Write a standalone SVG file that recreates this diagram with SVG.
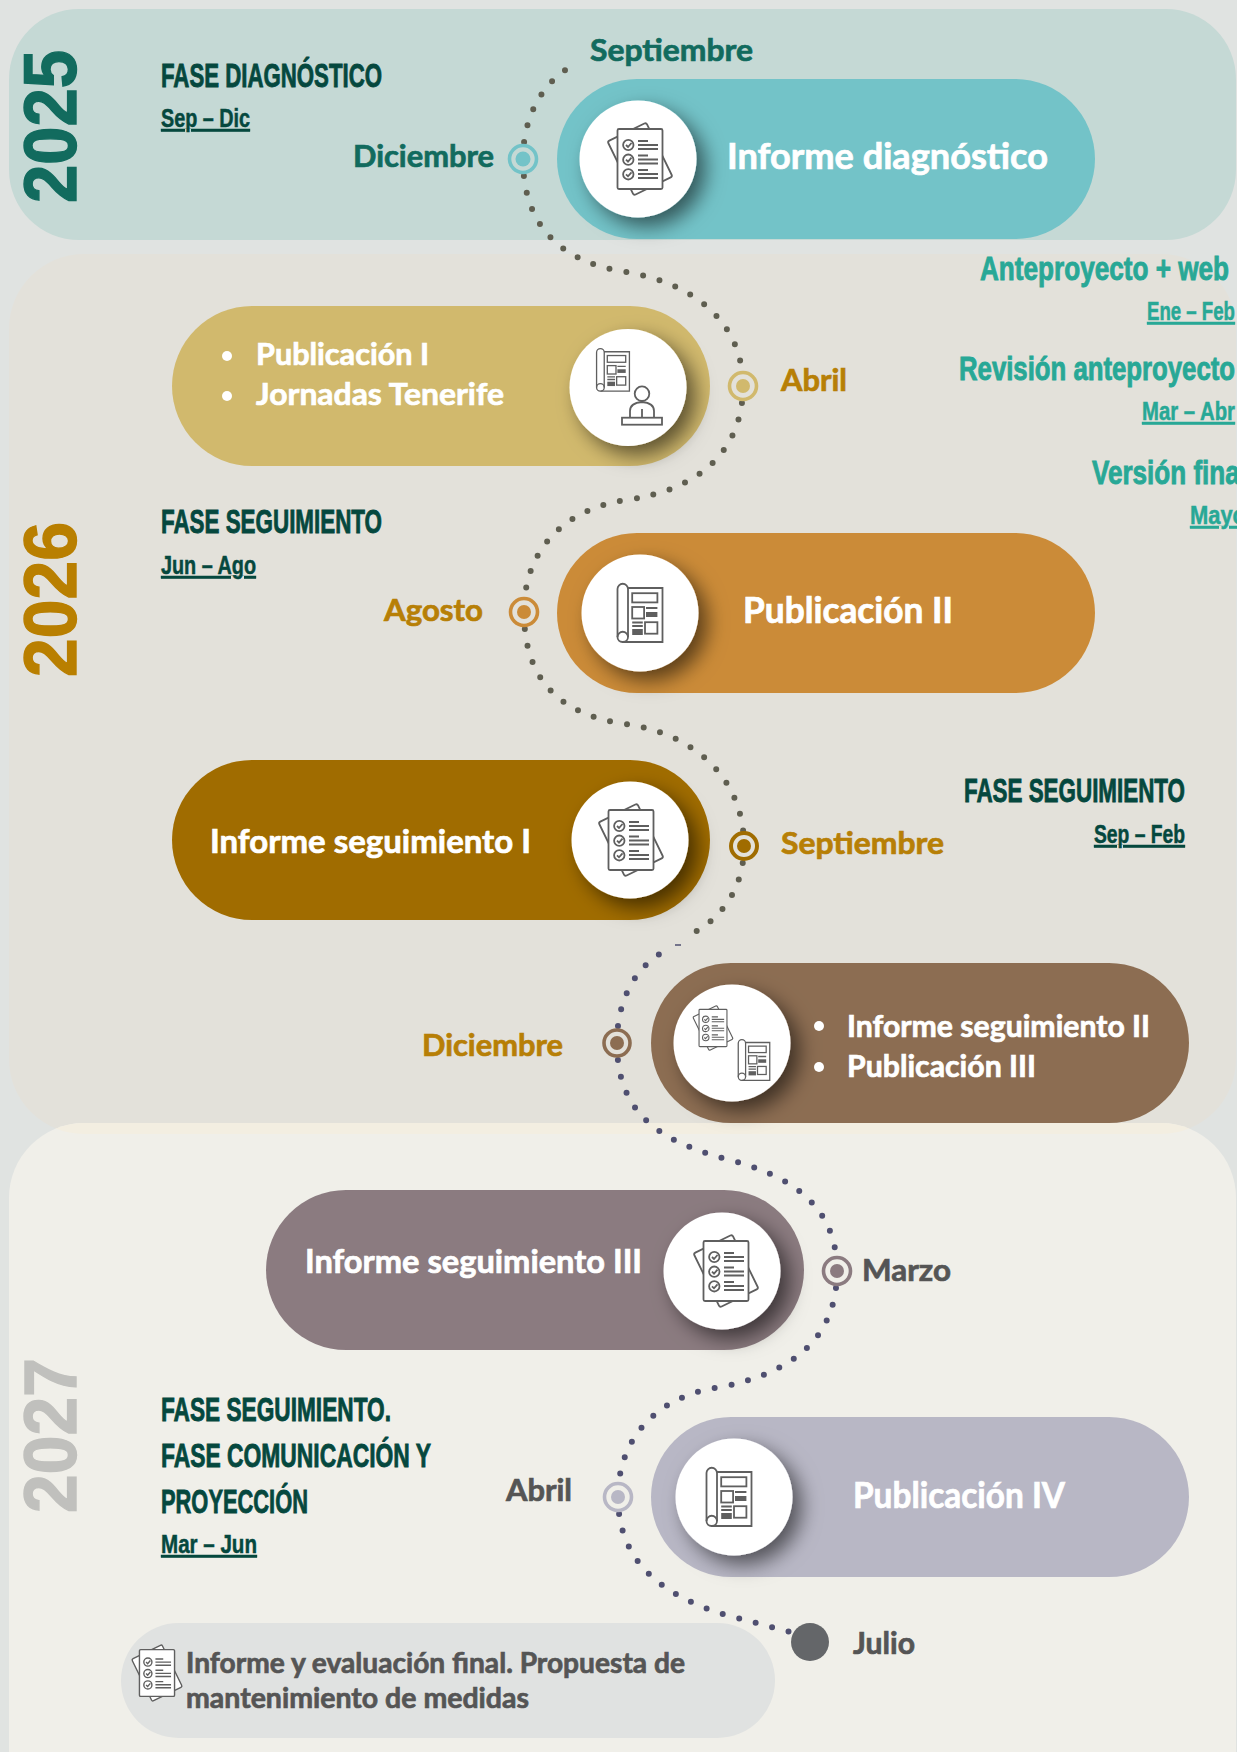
<svg xmlns="http://www.w3.org/2000/svg" width="1237" height="1752" viewBox="0 0 1237 1752">
<defs>
<style>
.t{font-family:"Lato","Liberation Sans",sans-serif;font-weight:700;stroke-width:.7px}
.f36{font-size:36px}.f33{font-size:33px}.f31{font-size:31px}.f29{font-size:29px}
.cw{fill:#fff;stroke:#fff}.cte{fill:#126b5e;stroke:#126b5e}.cam{fill:#b77f06;stroke:#b77f06}.cgr{fill:#555;stroke:#555}
.c{font-family:"Liberation Sans",Arial,sans-serif;font-weight:700;stroke-width:.9px}
.h{font-size:34px;fill:#05483e;stroke:#05483e}
.d{font-size:26px;text-decoration:underline;fill:#05483e;stroke:#05483e;stroke-width:.5px}
.hg{font-size:34px;fill:#28a896;stroke:#28a896}
.dg{font-size:26px;text-decoration:underline;fill:#28a896;stroke:#28a896;stroke-width:.5px}
.y{font-size:74px;stroke-width:1.4px}
.k{stroke:#5f5f5f;stroke-width:1.8;fill:none}
.kw{stroke:#5f5f5f;stroke-width:1.8;fill:#fff}
.dark{fill:#5f5f5f;stroke:none}
.dots{fill:none;stroke-width:6;stroke-linecap:round;stroke-dasharray:0 17}
.disc{fill:#fff;filter:url(#sh)}
.m{stroke-width:3.6}
</style>
<filter id="sh" x="-40%" y="-40%" width="200%" height="200%"><feDropShadow dx="9" dy="9" stdDeviation="10" flood-color="#000" flood-opacity=".55"/></filter>
<clipPath id="clip2026"><rect x="9" y="254" width="1227" height="880" rx="75"/></clipPath>
<g id="chk">
<rect class="kw" x="-21.500" y="-30" width="43" height="60" rx="2" transform="rotate(-26)"/>
<rect class="kw" x="-22.500" y="-30" width="45" height="60" rx="1.500"/>
<circle class="k" cx="-11.700" cy="-14" r="5.200"/><circle class="k" cx="-11.700" cy="0.700" r="5.200"/><circle class="k" cx="-11.700" cy="15.300" r="5.200"/>
<path class="k" d="M-14 -14l2 2 3.500-4M-14 0.700l2 2 3.500-4M-14 15.300l2 2 3.500-4M-2 -18h10M-2 -14h20M-2 -10h20M-2 -3.500h10M-2 0.500h20M-2 4.500h20M-2 11h10M-2 15h20M-2 19h20"/>
</g>
<g id="news">
<path class="kw" d="M-12 24V-24a5.200 5.200 0 0 0-10.500 0V24a5 5 0 0 0 5 5H22.500V-25H-12"/>
<path class="k" d="M-22.500 24a5.200 5.200 0 0 1 10.500 0a5 5 0 0 1-5 5"/>
<rect class="k" x="-7.800" y="-19.800" width="25.200" height="9.200"/><rect class="k" x="-7.800" y="-6" width="11.900" height="11.500"/><rect class="k" x="5" y="9.200" width="12.400" height="11.500"/>
<path class="k" d="M-7.800 9.500h10.600M-7.800 13h10.600M6 -5h11.400"/>
<rect class="dark" x="6" y="-1" width="11.400" height="5"/><rect class="dark" x="-7.800" y="16" width="10.600" height="6"/>
</g>
<g id="person">
<circle class="k" cx="0" cy="-13.300" r="7.300"/><path class="k" d="M-12 10V4q0-8 12-9q12 1 12 9V10M0 2V10"/><rect class="k" x="-20" y="10.700" width="40" height="7"/>
</g>
</defs>
<rect width="1237" height="1752" fill="#e0e3e1"/>
<g id="bands">
<rect id="band-2025" x="9" y="9" width="1227" height="231" rx="70" fill="#c5d9d5"/>
<rect id="band-2026" x="9" y="254" width="1227" height="880" rx="75" fill="#e3e1da"/>
<rect id="band-2027" x="9" y="1123" width="1227" height="720" rx="75" fill="#f0efe9"/>
<rect x="9" y="1123" width="1227" height="720" rx="75" fill="#f3eee1" clip-path="url(#clip2026)"/>
</g>
<text class="c y" fill="#126b5e" stroke="#126b5e" transform="translate(76 203) rotate(-90)" textLength="153" lengthAdjust="spacingAndGlyphs">2025</text>
<text class="c y" fill="#b97f00" stroke="#b97f00" transform="translate(76 677) rotate(-90)" textLength="155" lengthAdjust="spacingAndGlyphs">2026</text>
<text class="c y" fill="#c0c0bd" stroke="#c0c0bd" transform="translate(76 1513) rotate(-90)" textLength="155" lengthAdjust="spacingAndGlyphs">2027</text>
<g id="connectors">
<path class="dots" stroke="#5f5e50" d="M523 159C523 120 540 85 570 67M523 159C523 225 560 262 626 272C690 282 743 320 743 386M743 386C743 450 700 490 626 500C570 508 524 545 524 612M524 612C524 680 560 715 626 724C690 733 744 775 744 846M744 846C744 885 725 915 695 932"/>
<path stroke="#4f4f70" stroke-width="1.500" d="M675 945h6"/>
<path class="dots" stroke="#4f4f70" d="M617 1043C617 1000 635 968 663 952M617 1043C617 1110 655 1140 726 1159C790 1175 837 1205 837 1271M837 1271C837 1340 790 1375 715 1388C655 1398 618 1440 618 1497M618 1497C618 1560 660 1595 726 1615L790 1632"/>
</g>
<g id="n-informe-diagnostico">
<rect x="557" y="79" width="538" height="160" rx="80" fill="#73c3c8"/><circle class="disc" cx="638" cy="159" r="58.500"/><use href="#chk" x="640" y="159"/>
<text class="t f36 cw" x="727" y="169" textLength="321" lengthAdjust="spacingAndGlyphs">Informe diagnóstico</text>
</g>
<g id="n-publicacion-1">
<rect x="172" y="306" width="538" height="160" rx="80" fill="#d1b96d"/><circle class="disc" cx="628" cy="387.500" r="58.500"/>
<use href="#news" transform="translate(613 370) scale(.73)"/><use href="#person" x="642" y="407"/>
<circle cx="227" cy="356" r="5" fill="#fff"/><circle cx="227" cy="396" r="5" fill="#fff"/>
<text class="t f31 cw" x="256" y="365" textLength="173" lengthAdjust="spacingAndGlyphs">Publicación I</text>
<text class="t f31 cw" x="256" y="405" textLength="248" lengthAdjust="spacingAndGlyphs">Jornadas Tenerife</text>
</g>
<g id="n-publicacion-2">
<rect x="557" y="533" width="538" height="160" rx="80" fill="#cb8b38"/><circle class="disc" cx="640" cy="613" r="58.500"/><use href="#news" x="640" y="613"/>
<text class="t f36 cw" x="743" y="623" textLength="210" lengthAdjust="spacingAndGlyphs">Publicación II</text>
</g>
<g id="n-seguimiento-1">
<rect x="172" y="760" width="538" height="160" rx="80" fill="#a06c00"/><circle class="disc" cx="630" cy="840" r="58.500"/><use href="#chk" x="631" y="840"/>
<text class="t f33 cw" x="210" y="853" textLength="321" lengthAdjust="spacingAndGlyphs">Informe seguimiento I</text>
</g>
<g id="n-seguimiento-2">
<rect x="651" y="963" width="538" height="160" rx="80" fill="#8c6d52"/><circle class="disc" cx="732" cy="1043" r="58.500"/>
<use href="#chk" transform="translate(713 1028) scale(.62)"/><use href="#news" transform="translate(754 1060) scale(.7)"/>
<circle cx="819" cy="1026" r="5" fill="#fff"/><circle cx="819" cy="1067" r="5" fill="#fff"/>
<text class="t f31 cw" x="847" y="1037" textLength="303" lengthAdjust="spacingAndGlyphs">Informe seguimiento II</text>
<text class="t f31 cw" x="847" y="1077" textLength="189" lengthAdjust="spacingAndGlyphs">Publicación III</text>
</g>
<g id="n-seguimiento-3">
<rect x="266" y="1190" width="538" height="160" rx="80" fill="#8b7b80"/><circle class="disc" cx="722" cy="1271" r="58.500"/><use href="#chk" x="726" y="1271"/>
<text class="t f33 cw" x="305" y="1273" textLength="337" lengthAdjust="spacingAndGlyphs">Informe seguimiento III</text>
</g>
<g id="n-publicacion-4">
<rect x="651" y="1417" width="538" height="160" rx="80" fill="#b8b7c5"/><circle class="disc" cx="734" cy="1497" r="58.500"/><use href="#news" x="729" y="1497"/>
<text class="t f36 cw" x="853" y="1508" textLength="212" lengthAdjust="spacingAndGlyphs">Publicación IV</text>
</g>
<g id="n-final">
<rect x="121" y="1623" width="654" height="115" rx="57.500" fill="#e0e2e1"/><use href="#chk" transform="translate(157 1673) scale(.78)"/>
<text class="t f29 cgr" x="186" y="1673" textLength="499" lengthAdjust="spacingAndGlyphs">Informe y evaluación final. Propuesta de</text>
<text class="t f29 cgr" x="186" y="1708" textLength="343" lengthAdjust="spacingAndGlyphs">mantenimiento de medidas</text>
</g>
<g id="markers">
<circle class="m" cx="523" cy="159" r="13.500" fill="#c5d9d5" stroke="#73c3c8"/><circle cx="523" cy="159" r="7.500" fill="#73c3c8"/>
<circle class="m" cx="743" cy="386" r="13.500" fill="#e3e1da" stroke="#d1b96d"/><circle cx="743" cy="386" r="7" fill="#d1b96d"/>
<circle class="m" cx="524" cy="612" r="13.500" fill="#e3e1da" stroke="#cb8b38"/><circle cx="524" cy="612" r="7" fill="#cb8b38"/>
<circle cx="744" cy="846" r="13" fill="#e3e1da" stroke="#a06c00" stroke-width="4"/><circle cx="744" cy="846" r="7" fill="#a06c00"/>
<circle class="m" cx="617" cy="1043" r="13" fill="#e3e1da" stroke="#8c6d52"/><circle cx="617" cy="1043" r="7" fill="#8c6d52"/>
<circle class="m" cx="837" cy="1271" r="13.500" fill="#f0efe9" stroke="#8b7b80"/><circle cx="837" cy="1271" r="7" fill="#8b7b80"/>
<circle class="m" cx="618" cy="1497" r="13.500" fill="#f0efe9" stroke="#b8b7c5"/><circle cx="618" cy="1497" r="7" fill="#b8b7c5"/>
<circle cx="810" cy="1642" r="19" fill="#646669"/>
</g>
<g id="dates">
<text class="t f31 cte" x="590" y="61" textLength="163" lengthAdjust="spacingAndGlyphs">Septiembre</text>
<text class="t f31 cte" x="353" y="167" textLength="141" lengthAdjust="spacingAndGlyphs">Diciembre</text>
<text class="t f31 cam" x="781" y="391" textLength="66" lengthAdjust="spacingAndGlyphs">Abril</text>
<text class="t f31 cam" x="384" y="621" textLength="99" lengthAdjust="spacingAndGlyphs">Agosto</text>
<text class="t f31 cam" x="781" y="854" textLength="163" lengthAdjust="spacingAndGlyphs">Septiembre</text>
<text class="t f31 cam" x="422" y="1056" textLength="141" lengthAdjust="spacingAndGlyphs">Diciembre</text>
<text class="t f31 cgr" x="862" y="1281" textLength="89" lengthAdjust="spacingAndGlyphs">Marzo</text>
<text class="t f31 cgr" x="506" y="1501" textLength="66" lengthAdjust="spacingAndGlyphs">Abril</text>
<text class="t f31 cgr" x="853" y="1654" textLength="62" lengthAdjust="spacingAndGlyphs">Julio</text>
</g>
<g id="phases">
<text class="c h" x="161" y="87" textLength="221" lengthAdjust="spacingAndGlyphs">FASE DIAGNÓSTICO</text>
<text class="c d" x="161" y="127" textLength="89" lengthAdjust="spacingAndGlyphs">Sep – Dic</text>
<text class="c h" x="161" y="533" textLength="221" lengthAdjust="spacingAndGlyphs">FASE SEGUIMIENTO</text>
<text class="c d" x="161" y="574" textLength="95" lengthAdjust="spacingAndGlyphs">Jun – Ago</text>
<text class="c h" x="964" y="802" textLength="221" lengthAdjust="spacingAndGlyphs">FASE SEGUIMIENTO</text>
<text class="c d" x="1094" y="843" textLength="91" lengthAdjust="spacingAndGlyphs">Sep – Feb</text>
<text class="c h" x="161" y="1421" textLength="230" lengthAdjust="spacingAndGlyphs">FASE SEGUIMIENTO.</text>
<text class="c h" x="161" y="1467" textLength="270" lengthAdjust="spacingAndGlyphs">FASE COMUNICACIÓN Y</text>
<text class="c h" x="161" y="1513" textLength="147" lengthAdjust="spacingAndGlyphs">PROYECCIÓN</text>
<text class="c d" x="161" y="1553" textLength="96" lengthAdjust="spacingAndGlyphs">Mar – Jun</text>
<text class="c hg" x="980" y="280" textLength="249" lengthAdjust="spacingAndGlyphs">Anteproyecto + web</text>
<text class="c dg" x="1147" y="320" textLength="88" lengthAdjust="spacingAndGlyphs">Ene – Feb</text>
<text class="c hg" x="959" y="380" textLength="276" lengthAdjust="spacingAndGlyphs">Revisión anteproyecto</text>
<text class="c dg" x="1142" y="420" textLength="93" lengthAdjust="spacingAndGlyphs">Mar – Abr</text>
<text class="c hg" x="1092" y="484" textLength="155" lengthAdjust="spacingAndGlyphs">Versión final</text>
<text class="c dg" x="1190" y="524" textLength="56" lengthAdjust="spacingAndGlyphs">Mayo</text>
</g>
</svg>
